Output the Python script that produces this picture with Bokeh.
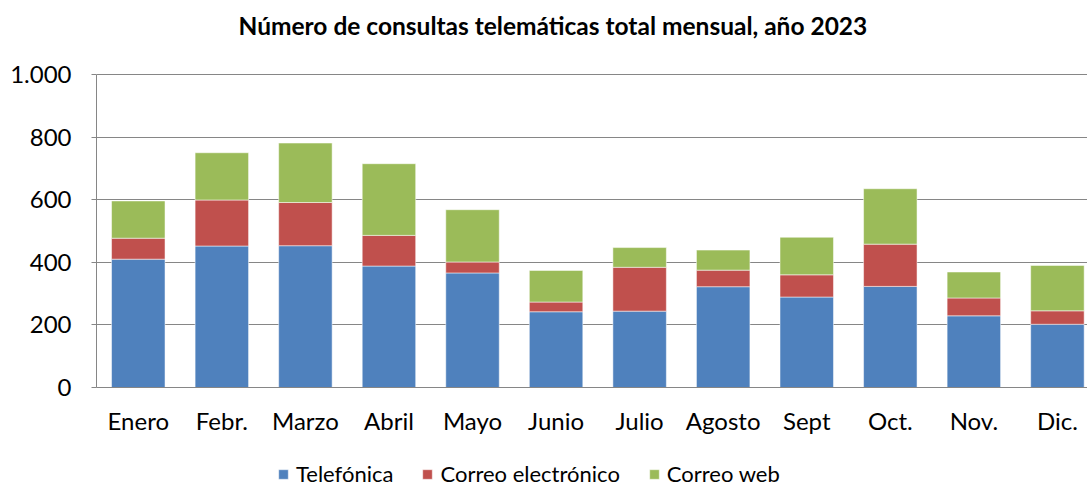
from bokeh.plotting import figure
from bokeh.models import (ColumnDataSource, Range1d, FixedTicker, Legend, LegendItem, Label)
from bokeh.embed import file_html
from bokeh.resources import INLINE

months = ["Enero", "Febr.", "Marzo", "Abril", "Mayo", "Junio", "Julio",
          "Agosto", "Sept", "Oct.", "Nov.", "Dic."]
telefonica = [410, 452, 453, 388, 366, 242, 244, 322, 289, 323, 229, 202]
correo_electronico = [67, 147, 138, 98, 35, 31, 140, 53, 71, 135, 57, 43]
correo_web = [119, 151, 190, 229, 167, 101, 63, 64, 120, 177, 83, 145]
series_names = ["Telefónica", "Correo electrónico", "Correo web"]
series_colors = ["#4F81BD", "#C0504D", "#9BBB59"]
y_ticks = [0, 200, 400, 600, 800, 1000]
y_tick_labels = ["0", "200", "400", "600", "800", "1.000"]
title_text = "Número de consultas telemáticas total mensual, año 2023"

FONT = "Lato"
x = list(range(len(months)))
source = ColumnDataSource(dict(x=x, tel=telefonica, ce=correo_electronico, cw=correo_web))

# frame spans the whole canvas height; the value axis 0..1000 occupies the
# middle band, leaving room above for the title and below for labels + legend
PX_PER_UNIT = 313 / 1000
y_start = -99 / PX_PER_UNIT
y_end = 1000 + 74 / PX_PER_UNIT

p = figure(width=1087, height=486, output_backend="svg", toolbar_location=None,
           x_range=Range1d(-0.5, 11.36), y_range=Range1d(y_start, y_end),
           min_border_left=96, min_border_right=0, min_border_top=0,
           min_border_bottom=0)
p.outline_line_color = None
p.background_fill_color = "white"
p.border_fill_color = "white"

renderers = p.vbar_stack(["tel", "ce", "cw"], x="x", width=0.64, color=series_colors,
                         line_color="white", line_alpha=0.5, line_width=1, source=source)

p.xgrid.visible = False
p.ygrid.grid_line_color = "#868686"
p.ygrid.grid_line_width = 1

p.yaxis.ticker = FixedTicker(ticks=y_ticks)
p.yaxis.bounds = (0, 1000)
p.yaxis.major_label_overrides = {t: l for t, l in zip(y_ticks, y_tick_labels)}
p.yaxis.axis_line_color = "#868686"
p.yaxis.major_tick_line_color = "#868686"
p.yaxis.major_tick_out = 5
p.yaxis.major_tick_in = 0
p.yaxis.minor_tick_line_color = None
p.yaxis.major_label_standoff = 20
p.yaxis.major_label_text_font = FONT
p.yaxis.major_label_text_font_size = "24px"
p.yaxis.major_label_text_color = "black"

p.xaxis.fixed_location = 0
p.xaxis.ticker = FixedTicker(ticks=x)
p.xaxis.major_label_overrides = {i: m for i, m in zip(x, months)}
p.xaxis.axis_line_color = "#868686"
p.xaxis.major_tick_line_color = None
p.xaxis.minor_tick_line_color = None
p.xaxis.major_tick_out = 0
p.xaxis.major_label_standoff = 18
p.xaxis.major_label_text_font = FONT
p.xaxis.major_label_text_font_size = "24px"
p.xaxis.major_label_text_color = "black"

title = Label(x=142, y=461, x_units="screen", y_units="screen", text=title_text,
              text_font=FONT, text_font_size="24.5px", text_font_style="bold",
              text_color="black", text_baseline="alphabetic", text_align="left")
p.add_layout(title)

legend = Legend(items=[LegendItem(label=n, renderers=[r]) for n, r in zip(series_names, renderers)],
                orientation="horizontal", location=(181, -1), padding=0, margin=0,
                border_line_color=None, background_fill_alpha=0,
                glyph_width=12, glyph_height=12, label_standoff=7, spacing=28,
                label_text_font=FONT, label_text_font_size="22px", label_text_color="black")
p.add_layout(legend, "center")

open("out.html", "w").write(file_html(p, INLINE))
